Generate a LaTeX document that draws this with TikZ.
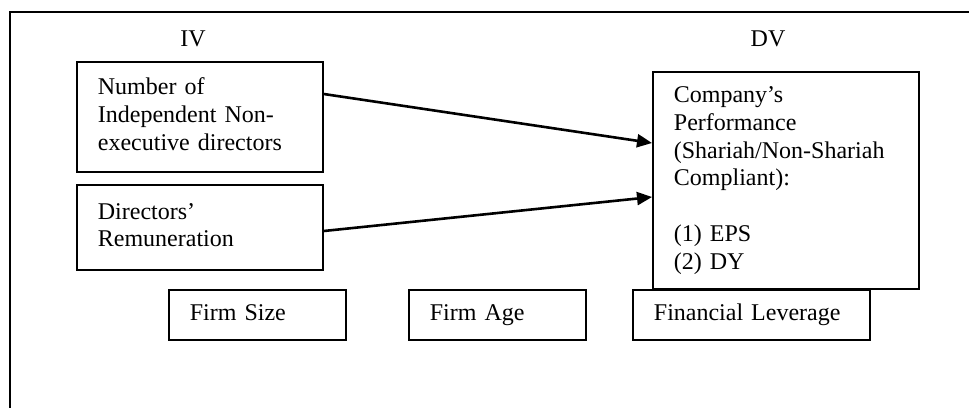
\documentclass[tikz,border=0pt]{standalone}
\usepackage{fontspec}
\setmainfont{Liberation Serif}
\usetikzlibrary{arrows.meta,calc}
\begin{document}
\begin{tikzpicture}[x=1pt,y=-1pt,
  txt/.style={font=\fontsize{24}{27.7}\selectfont},
  vbox/.style={txt,draw,line width=1.8pt,fill=white,anchor=north west,align=left,
    inner xsep=21pt,inner ysep=0pt},
  link/.style={line width=2.6pt,-{Triangle[length=15pt,width=13pt]}},
  frame/.style={line width=2pt}]
\useasboundingbox (0,0) rectangle (969,408);
\draw[frame] (969,12) -- (10,12) -- (10,408);
\node[txt] (iv) at (193,39) {IV};
\node[txt] (dvl) at (768,39) {DV};
\node[vbox,text width=204pt,minimum height=110pt] (b1) at (76,61)
  {\strut Number of\\Independent Non-\\executive directors\strut};
\node[vbox,text width=204pt,minimum height=85pt] (b2) at (76,184)
  {\strut Directors’\\Remuneration\strut};
\node[vbox,text width=224pt,minimum height=217pt] (dv) at (652,71)
  {\strut Company’s\\Performance\\(Shariah/Non-Shariah\\Compliant):\\[27.7pt](1) EPS\\(2) DY\strut};
\node[vbox,text width=135pt,minimum height=50pt] (fs) at (168,289) {\strut Firm Size};
\node[vbox,text width=135pt,minimum height=50pt] (fa) at (408,289) {\strut Firm Age};
\node[vbox,text width=195pt,minimum height=50pt] (fl) at (632,289) {\strut Financial Leverage};
\draw[link] ([yshift=-33pt]b1.north east) -- ([yshift=-72pt]dv.north west);
\draw[link] ([yshift=-47pt]b2.north east) -- ([yshift=-126pt]dv.north west);
\end{tikzpicture}
\end{document}
